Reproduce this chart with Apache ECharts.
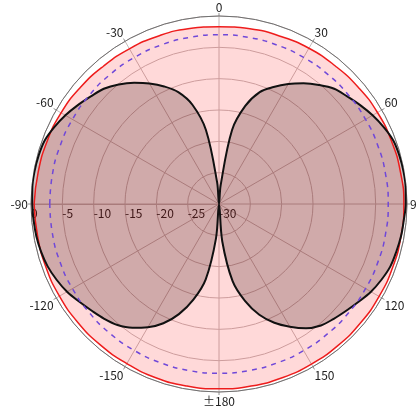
<!DOCTYPE html>
<html>
<head>
    <meta charset="UTF-8">
    <script type="text/javascript" src="https://cdn.jsdelivr.net/npm/echarts@6/dist/echarts.min.js"></script>
    <style>
        body { margin: 0; background: #fff; }
    </style>
</head>
<body>
    <div style="height: 408px;width: 416px" id="myDiv"></div>
    <script type="text/javascript">
        // dB scale and angle ticks
        var radiusTicks = [-30, -25, -20, -15, -10, -5, 0];
        var halfPowerLevel = -3;

        // omni reference (red), angle in degrees
        var refAngles = [-180, -170, -160, -150, -140, -130, -120, -110, -100, -90, -80, -70, -60, -50, -40, -30, -20, -10,
            0, 10, 20, 30, 40, 50, 60, 70, 80, 90, 100, 110, 120, 130, 140, 150, 160, 170, 180];
        var refValues = [-0.5, -0.5, -0.5, -0.6, -0.6, -0.6, -0.6, -0.6, -0.6, -0.5, -0.7, -0.8, -0.9, -1.1, -1.3, -1.4, -1.5, -1.6,
            -1.7, -1.6, -1.5, -1.3, -1.2, -1.0, -0.8, -0.7, -0.6, -0.5, -0.5, -0.5, -0.5, -0.5, -0.5, -0.5, -0.5, -0.5, -0.5];

        // measured figure-8 pattern (black)
        var patAngles = [-180, -175, -170, -165, -160, -155, -150, -145, -140, -135, -130, -125, -120, -115, -110, -105, -100, -95,
            -90, -85, -80, -75, -70, -65, -60, -55, -50, -45, -40, -35, -30, -25, -20, -15, -10, -5,
            0, 5, 10, 15, 20, 25, 30, 35, 40, 45, 50, 55, 60, 65, 70, 75, 80, 85,
            90, 95, 100, 105, 110, 115, 120, 125, 130, 135, 140, 145, 150, 155, 160, 165, 170, 175];
        var patValues = [-30, -24.5, -17.8, -14.2, -11.3, -9.0, -7.3, -5.9, -4.8, -4.1, -3.5, -2.8, -2.0, -1.4, -0.9, -0.6, -0.4, -0.3,
            -0.2, -0.1, -0.1, -0.2, -0.4, -1.0, -1.7, -2.5, -3.3, -4.0, -5.1, -6.4, -7.8, -9.3, -11.0, -13.6, -18.0, -26.5,
            -30, -27, -18, -13.8, -11, -9.4, -7.9, -6.5, -5.2, -4.0, -3.3, -2.5, -1.7, -1.0, -0.4, -0.2, -0.1, -0.1,
            -0.2, -0.4, -0.5, -0.7, -0.9, -1.4, -2.0, -2.8, -3.5, -4.1, -4.7, -5.8, -7.4, -9.1, -11.2, -14.0, -17.5, -24.0];

        // axis runs -90..270 so the radius axis lies on the left
        function toAxis(a) {
            return a < -90 ? a + 360 : a;
        }

        function closedCurve(angles, values) {
            var pts = [];
            for (var i = 0; i < angles.length; i++) {
                pts.push([values[i], toAxis(angles[i])]);
            }
            pts.sort(function (p, q) { return p[1] - q[1]; });
            pts.push([pts[0][0], pts[0][1] + 360]);
            return pts;
        }

        var refData = closedCurve(refAngles, refValues);
        var patData = closedCurve(patAngles, patValues);
        var ringData = refAngles.map(function (a) { return [halfPowerLevel, toAxis(a)]; })
            .sort(function (p, q) { return p[1] - q[1]; });
        ringData.push([halfPowerLevel, ringData[0][1] + 360]);

        var chart = echarts.init(document.getElementById("myDiv"));
        var option = {
            animation: false,
            textStyle: {fontFamily: 'Noto Sans CJK JP'},
            polar: {
                center: [219, 204],
                radius: 188
            },
            angleAxis: {
                type: 'value',
                startAngle: 180,
                clockwise: true,
                min: -90,
                max: 270,
                interval: 30,
                axisLine: {lineStyle: {color: '#707070', width: 1}},
                axisTick: {show: true, length: 3, lineStyle: {color: '#909090'}},
                axisLabel: {
                    margin: 3,
                    color: '#222',
                    fontSize: 12,
                    formatter: function (v) {
                        if (v === 180) return '±180';
                        return v > 180 ? String(v - 360) : String(v);
                    }
                },
                splitLine: {lineStyle: {color: '#c4b8b8', width: 1}}
            },
            radiusAxis: {
                type: 'value',
                min: radiusTicks[0],
                max: radiusTicks[radiusTicks.length - 1],
                interval: 5,
                axisLine: {show: true, lineStyle: {color: '#c4b8b8'}},
                axisTick: {show: false},
                axisLabel: {
                    margin: 3,
                    color: '#222',
                    fontSize: 12,
                    align: 'left',
                    verticalAlign: 'top'
                },
                splitLine: {lineStyle: {color: '#c4b8b8', width: 1}}
            },
            series: [
                {
                    name: 'reference',
                    type: 'line',
                    coordinateSystem: 'polar',
                    data: refData,
                    showSymbol: false,
                    smooth: true,
                    lineStyle: {color: '#ee1c1c', width: 1.5},
                    areaStyle: {color: 'rgba(255,0,0,0.21)', origin: 'start'}
                },
                {
                    name: 'pattern',
                    type: 'line',
                    coordinateSystem: 'polar',
                    data: patData,
                    showSymbol: false,
                    smooth: 0.35,
                    lineStyle: {color: '#111', width: 2},
                    areaStyle: {color: 'rgba(60,20,20,0.35)', origin: 'start'}
                },
                {
                    name: '-3dB',
                    type: 'line',
                    coordinateSystem: 'polar',
                    data: ringData,
                    showSymbol: false,
                    smooth: true,
                    lineStyle: {color: '#7048d8', width: 1.5, type: [5, 5]}
                }
            ]
        };
        chart.setOption(option);
    </script>
</body>
</html>
